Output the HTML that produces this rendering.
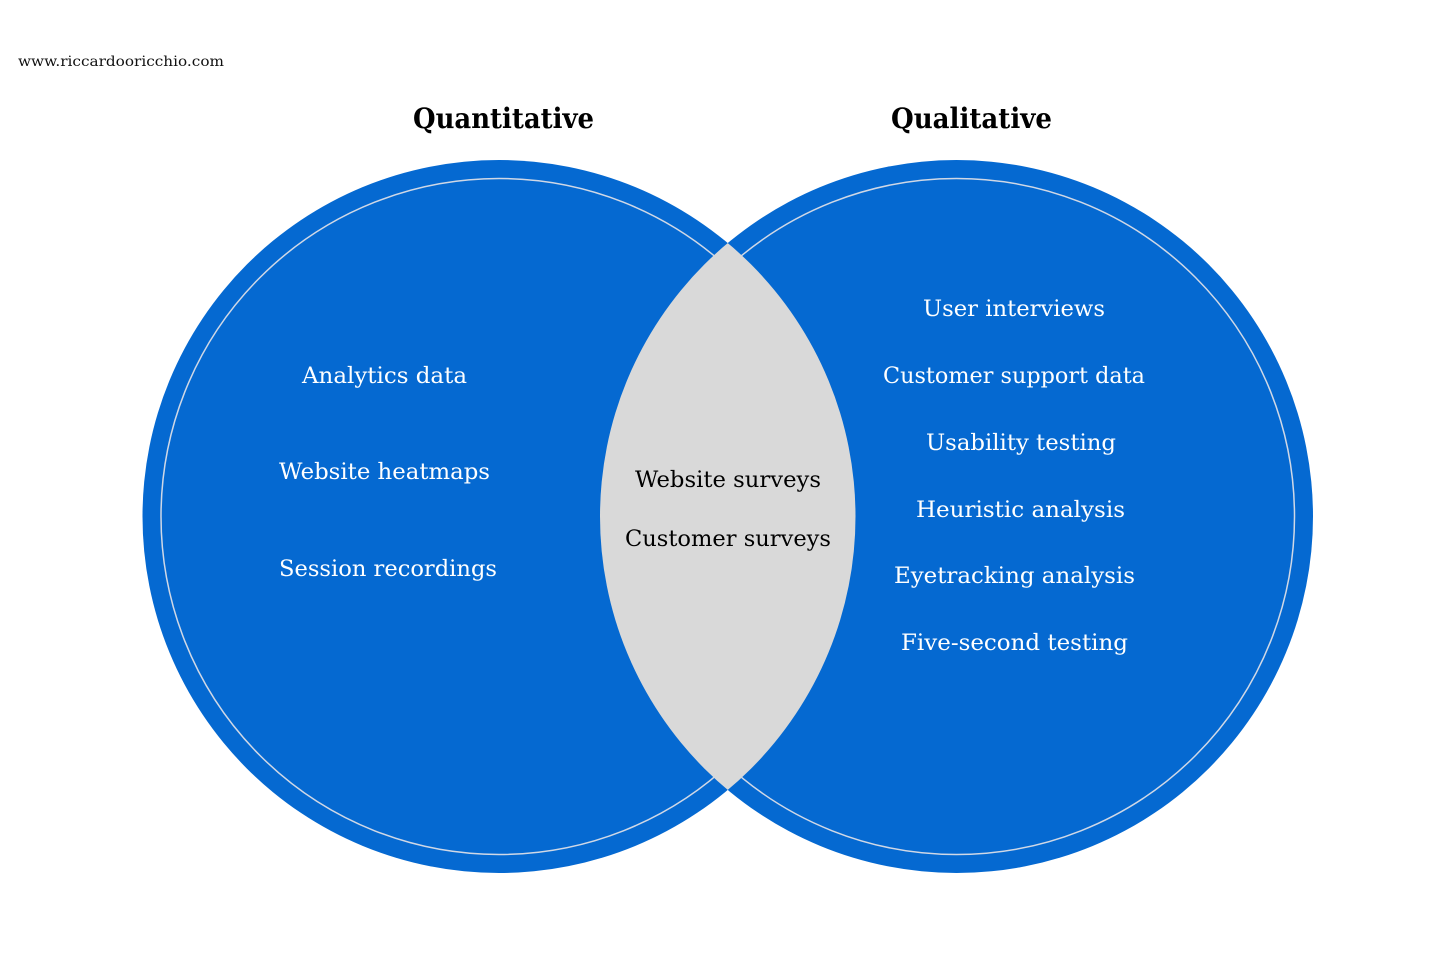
<!DOCTYPE html>
<html><head><meta charset="utf-8"><style>
html,body{margin:0;padding:0;background:#fff;width:1456px;height:971px;overflow:hidden}
text{font-family:"DejaVu Serif","Liberation Serif",serif}
</style></head><body>
<svg width="1456" height="971" viewBox="0 0 1456 971" xmlns="http://www.w3.org/2000/svg">
<defs>
<clipPath id="cl"><circle cx="499" cy="516.5" r="356.5"/></clipPath>
</defs>
<circle cx="499" cy="516.5" r="356.5" fill="#0569d1"/>
<circle cx="956.5" cy="516.5" r="356.5" fill="#0569d1"/>
<circle cx="499" cy="516.5" r="338" fill="none" stroke="#d0d8e6" stroke-width="1.5"/>
<circle cx="956.5" cy="516.5" r="338" fill="none" stroke="#d0d8e6" stroke-width="1.5"/>
<circle cx="956.5" cy="516.5" r="356.5" fill="#d9d9d9" clip-path="url(#cl)"/>
<text x="18" y="66" font-size="14" textLength="206" lengthAdjust="spacingAndGlyphs" fill="#111">www.riccardooricchio.com</text>
<g font-weight="bold" font-size="28" fill="#000">
<text x="413" y="128" textLength="181" lengthAdjust="spacingAndGlyphs">Quantitative</text>
<text x="891" y="128" textLength="161" lengthAdjust="spacingAndGlyphs">Qualitative</text>
</g>
<g font-size="22" fill="#fff">
<text x="302" y="383" textLength="165" lengthAdjust="spacingAndGlyphs">Analytics data</text>
<text x="279" y="479" textLength="211" lengthAdjust="spacingAndGlyphs">Website heatmaps</text>
<text x="279" y="576" textLength="218" lengthAdjust="spacingAndGlyphs">Session recordings</text>
<text x="923" y="316" textLength="182" lengthAdjust="spacingAndGlyphs">User interviews</text>
<text x="883" y="383" textLength="262" lengthAdjust="spacingAndGlyphs">Customer support data</text>
<text x="926" y="450" textLength="190" lengthAdjust="spacingAndGlyphs">Usability testing</text>
<text x="916" y="517" textLength="209" lengthAdjust="spacingAndGlyphs">Heuristic analysis</text>
<text x="894" y="583" textLength="241" lengthAdjust="spacingAndGlyphs">Eyetracking analysis</text>
<text x="901" y="650" textLength="227" lengthAdjust="spacingAndGlyphs">Five-second testing</text>
</g>
<g font-size="22" fill="#000">
<text x="635" y="487" textLength="186" lengthAdjust="spacingAndGlyphs">Website surveys</text>
<text x="625" y="546" textLength="206" lengthAdjust="spacingAndGlyphs">Customer surveys</text>
</g>
</svg>
</body></html>
